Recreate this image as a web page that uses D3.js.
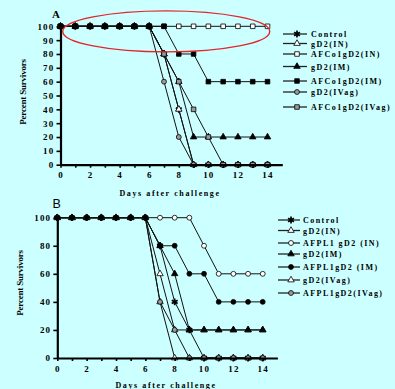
<!DOCTYPE html>
<html>
  <head>
    <style>
      body { margin: 0; background: rgb(204,255,255); }
      text { font-family: 'Liberation Serif', 'DejaVu Serif', serif; font-weight: bold; }
    </style>
  </head>

  <body>

    <svg class="surface" width="395" height="389"></svg>

    <script src="https://cdn.jsdelivr.net/npm/d3@7/dist/d3.min.js" charset="utf-8"></script>
    <script>

      const days = d3.range(0, 15)

      // panel A
      const namesA = ['Control', 'gD2(IN)', 'AFCo1gD2(IN)', 'gD2(IM)', 'AFCo1gD2(IM)', 'gD2(IVag)', 'AFCo1gD2(IVag)']
      const controlA  = [100,100,100,100,100,100,100, 80, 40,  0,  0,  0,  0,  0,  0]
      const gd2INA    = [100,100,100,100,100,100,100, 80, 40,  0,  0,  0,  0,  0,  0]
      const afcoINA   = [100,100,100,100,100,100,100,100,100,100,100,100,100,100,100]
      const gd2IMA    = [100,100,100,100,100,100,100, 80, 60, 20, 20, 20, 20, 20, 20]
      const afcoIMA   = [100,100,100,100,100,100,100,100, 80, 80, 60, 60, 60, 60, 60]
      const gd2IVagA  = [100,100,100,100,100,100,100, 60, 20,  0,  0,  0,  0,  0,  0]
      const afcoIVagA = [100,100,100,100,100,100,100, 80, 60, 40, 20,  0,  0,  0,  0]

      // panel B
      const namesB = ['Control', 'gD2(IN)', 'AFPL1 gD2 (IN)', 'gD2(IM)', 'AFPL1gD2 (IM)', 'gD2(IVag)', 'AFPL1gD2(IVag)']
      const controlB  = [100,100,100,100,100,100,100, 80, 40, 20,  0,  0,  0,  0,  0]
      const gd2INB    = [100,100,100,100,100,100,100, 60, 20, 20, 20, 20, 20, 20, 20]
      const afplINB   = [100,100,100,100,100,100,100,100,100,100, 80, 60, 60, 60, 60]
      const gd2IMB    = [100,100,100,100,100,100,100, 80, 60, 20, 20, 20, 20, 20, 20]
      const afplIMB   = [100,100,100,100,100,100,100, 80, 80, 60, 60, 40, 40, 40, 40]
      const gd2IVagB  = [100,100,100,100,100,100,100, 40,  0,  0,  0,  0,  0,  0,  0]
      const afplIVagB = [100,100,100,100,100,100,100, 40, 20,  0,  0,  0,  0,  0,  0]

      const yTicksA = d3.range(0, 101, 10)
      const yTicksB = d3.range(0, 101, 20)
      const xLabels = [0, 2, 4, 6, 8, 10, 12, 14]

      const grey = '#9a9a9a'
      const stylesA = [
        { sym: d3.symbolAsterisk, fill: '#000' },
        { sym: d3.symbolTriangle, fill: '#fff' },
        { sym: d3.symbolSquare, fill: '#fff' },
        { sym: d3.symbolTriangle, fill: '#000' },
        { sym: d3.symbolSquare, fill: '#000' },
        { sym: d3.symbolCircle, fill: grey },
        { sym: d3.symbolSquare, fill: grey }
      ]
      const stylesB = [
        { sym: d3.symbolAsterisk, fill: '#000' },
        { sym: d3.symbolTriangle, fill: '#fff' },
        { sym: d3.symbolCircle, fill: '#fff' },
        { sym: d3.symbolTriangle, fill: '#000' },
        { sym: d3.symbolCircle, fill: '#000' },
        { sym: d3.symbolTriangle, fill: '#fff' },
        { sym: d3.symbolCircle, fill: grey }
      ]
      // the black-filled series sits on top in the original
      const drawOrder = [0, 1, 2, 3, 5, 6, 4]

      const svg = d3.select('.surface')

      function marker(g, st, x, y) {
        const size = st.sym === d3.symbolAsterisk ? 32 : st.sym === d3.symbolTriangle ? 18 : st.sym === d3.symbolSquare ? 21 : 19
        const p = g.append('path')
          .attr('d', d3.symbol(st.sym, size)())
          .attr('transform', `translate(${x},${y})`)
        if (st.sym === d3.symbolAsterisk) {
          p.attr('fill', 'none').attr('stroke', '#000').attr('stroke-width', 1.7)
        } else {
          p.attr('fill', st.fill).attr('stroke', '#000').attr('stroke-width', 0.8)
        }
      }

      function panel(opts) {
        const { series, names, styles, xr, yr, yTicks, legend } = opts
        const x = d3.scaleLinear().domain([0, 15]).range(xr)
        const y = d3.scaleLinear().domain([0, 100]).range(yr)
        const g = svg.append('g')

        const line = d3.line().x((d, i) => x(days[i])).y(d => y(d))
        drawOrder.forEach(k => {
          g.append('path').attr('d', line(series[k]))
            .attr('fill', 'none').attr('stroke', '#111').attr('stroke-width', 1)
        })
        drawOrder.forEach(k => {
          series[k].forEach((v, i) => marker(g, styles[k], x(days[i]), y(v)))
        })

        // axes
        const ya = g.append('g').attr('transform', `translate(${xr[0]},0)`)
          .call(d3.axisLeft(y).tickValues(yTicks).tickSize(4).tickSizeOuter(0).tickPadding(2))
        const xa = g.append('g').attr('transform', `translate(0,${yr[0]})`)
          .call(d3.axisBottom(x).tickValues(days).tickSize(3).tickSizeOuter(0).tickPadding(3)
            .tickFormat(d => xLabels.includes(d) ? d : ''))
        ;[ya, xa].forEach(a => {
          a.select('.domain').attr('stroke', '#000').attr('stroke-width', 2.2)
          a.selectAll('.tick line').attr('stroke', '#000').attr('stroke-width', 1.6)
          a.selectAll('.tick text').attr('fill', '#000')
            .style('font-family', "'Liberation Serif', serif").style('font-weight', 'bold')
            .style('font-size', '9px').style('letter-spacing', '1.2px')
        })
        xa.selectAll('.tick text').attr('dy', '0.85em')

        // legend
        names.forEach((n, k) => {
          const ly = legend.ys[k]
          g.append('line').attr('x1', legend.x1).attr('x2', legend.x2)
            .attr('y1', ly).attr('y2', ly).attr('stroke', '#222').attr('stroke-width', 1.3)
          marker(g, styles[k], (legend.x1 + legend.x2) / 2 + 2, ly)
          g.append('text').attr('x', legend.tx).attr('y', ly + 3)
            .style('font-size', '8px').style('letter-spacing', '1.45px').text(n)
        })
        return { g, x, y }
      }

      const A = panel({
        series: [controlA, gd2INA, afcoINA, gd2IMA, afcoIMA, gd2IVagA, afcoIVagA],
        names: namesA, styles: stylesA,
        xr: [60.5, 282.3], yr: [164.7, 26.3], yTicks: yTicksA,
        legend: { x1: 283, x2: 307, tx: 311, ys: [34, 43.5, 54, 66.5, 81, 92, 107] }
      })
      const B = panel({
        series: [controlB, gd2INB, afplINB, gd2IMB, afplIMB, gd2IVagB, afplIVagB],
        names: namesB, styles: stylesB,
        xr: [57.3, 277.4], yr: [358, 217.7], yTicks: yTicksB,
        legend: { x1: 278, x2: 300, tx: 303, ys: [220, 230.5, 243, 254, 267, 280, 293] }
      })

      // red ellipse around the 100% group in panel A
      A.g.append('ellipse')
        .attr('cx', (A.x(0.15) + A.x(14.15)) / 2).attr('cy', A.y(96.3))
        .attr('rx', (A.x(14.15) - A.x(0.15)) / 2).attr('ry', 20.5)
        .attr('fill', 'none').attr('stroke', '#e3262b').attr('stroke-width', 1.4)

      // panel letters and axis titles
      svg.append('text').attr('x', 52).attr('y', 18).style('font-size', '11px').text('A')
      svg.append('text').attr('x', 52.5).attr('y', 208)
        .style('font-family', "'Liberation Sans', Arial, sans-serif").style('font-weight', 'normal')
        .style('font-size', '12.5px').text('B')

      svg.append('text').attr('x', 170).attr('y', 196).attr('text-anchor', 'middle')
        .style('font-size', '8px').style('letter-spacing', '1.6px').text('Days after challenge')
      svg.append('text').attr('x', 166).attr('y', 388).attr('text-anchor', 'middle')
        .style('font-size', '8px').style('letter-spacing', '1.6px').text('Days after challenge')

      svg.append('text').attr('transform', 'translate(26,92) rotate(-90)').attr('text-anchor', 'middle')
        .style('font-size', '9px').style('letter-spacing', '-0.2px').text('Percent Survivors')
      svg.append('text').attr('transform', 'translate(23,283) rotate(-90)').attr('text-anchor', 'middle')
        .style('font-size', '9px').style('letter-spacing', '-0.2px').text('Percent Survivors')

    </script>
  </body>

</html>
